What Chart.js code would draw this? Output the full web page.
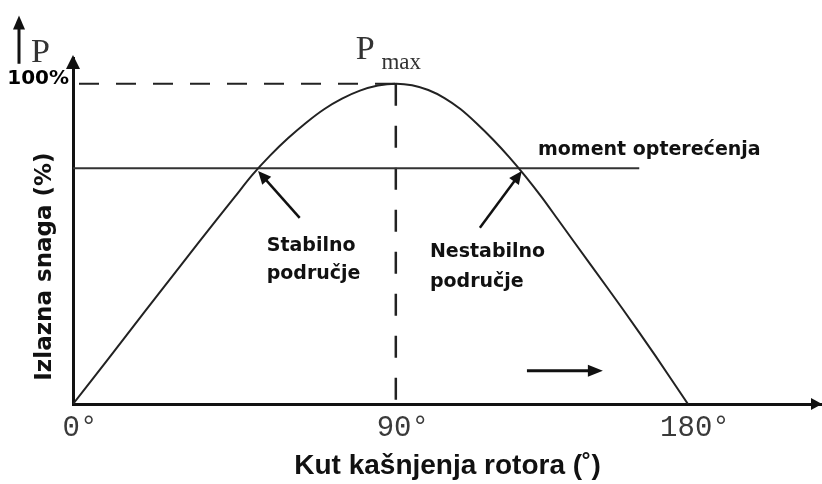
<!DOCTYPE html>
<html>
<head>
<meta charset="utf-8">
<script src="https://cdn.jsdelivr.net/npm/chart.js@4.4.1/dist/chart.umd.min.js"></script>
<style>
  html, body { margin: 0; padding: 0; background: #fff; }
  #wrap { width: 822px; height: 484px; }
</style>
</head>
<body>
<div id="wrap"><canvas id="c" width="822" height="484"></canvas></div>
<script>
// ── DATA ──────────────────────────────────────────────────────────────────────
// power-angle curve (degrees / % of Pmax)
const angles = [0, 10, 20, 30, 40, 45, 50, 55, 60, 65, 70, 75, 80, 85, 90,
                95, 100, 105, 110, 115, 120, 125, 130, 135, 140, 150, 160, 170, 180];
const power  = [0, 14.3, 28.8, 43.2, 57.5, 64.5, 71.5, 77.6, 83, 87.8, 92, 95.3, 97.8, 99.4, 100,
                99.5, 98, 95.5, 92, 87.5, 82.5, 77, 71, 64.5, 57.5, 43.5, 29.5, 15, 0];

const loadLevel = 73.6;          // moment opterećenja
const loadSpan  = [0, 165];
const pmaxAngle = 90;
const pmaxValue = 100;

const xTicks      = [0, 90, 180];
const xTickLabels = ['0°', '90°', '180°'];
const yTicks      = [100];
const yTickLabels = ['100%'];

// ── ANGLE SCALE ───────────────────────────────────────────────────────────────
// the sketch is hand drawn: 0-90 is wider than 90-180, so map piecewise
const ANGLE_STOPS = [0, 90, 180, 221];
const ANGLE_FRACS = [0, 0.431, 0.821, 1];

function lerpStops(v, from, to) {
  let i = 1;
  while (i < from.length - 1 && v > from[i]) i++;
  const t = (v - from[i - 1]) / (from[i] - from[i - 1]);
  return to[i - 1] + t * (to[i] - to[i - 1]);
}

const BaseLinear = Chart.LinearScale || Chart.registry.getScale('linear');
class AngleScale extends BaseLinear {
  getPixelForValue(v) {
    if (v === null || v === undefined) return NaN;
    return this.getPixelForDecimal(lerpStops(v, ANGLE_STOPS, ANGLE_FRACS));
  }
  getValueForPixel(p) {
    return lerpStops(this.getDecimalForPixel(p), ANGLE_FRACS, ANGLE_STOPS);
  }
}
AngleScale.id = 'angle';
AngleScale.defaults = BaseLinear.defaults;
Chart.register(AngleScale);

// ── HELPERS ───────────────────────────────────────────────────────────────────
const INK = '#111';
const BOLD = '"DejaVu Sans", Verdana, sans-serif';
const MONO = '"Liberation Mono", "Courier New", monospace';
const SERIF = '"Liberation Serif", "Times New Roman", serif';

function arrowHead(ctx, x1, y1, x2, y2, len, half) {
  const a = Math.atan2(y2 - y1, x2 - x1);
  const c = Math.cos(a), s = Math.sin(a);
  ctx.beginPath();
  ctx.moveTo(x2, y2);
  ctx.lineTo(x2 - len * c + half * s, y2 - len * s - half * c);
  ctx.lineTo(x2 - len * c - half * s, y2 - len * s + half * c);
  ctx.closePath();
  ctx.fill();
}

function arrow(ctx, x1, y1, x2, y2, w, len, half) {
  const a = Math.atan2(y2 - y1, x2 - x1);
  ctx.lineWidth = w;
  ctx.beginPath();
  ctx.moveTo(x1, y1);
  ctx.lineTo(x2 - len * 0.7 * Math.cos(a), y2 - len * 0.7 * Math.sin(a));
  ctx.stroke();
  arrowHead(ctx, x1, y1, x2, y2, len, half);
}

// ── ANNOTATIONS ───────────────────────────────────────────────────────────────
const sketchPlugin = {
  id: 'sketch',
  afterDraw(chart) {
    const { ctx, chartArea: ca } = chart;
    const X = v => chart.scales.x.getPixelForValue(v);
    const Y = v => chart.scales.y.getPixelForValue(v);
    ctx.save();
    ctx.fillStyle = INK;
    ctx.strokeStyle = INK;
    ctx.lineCap = 'butt';

    // axis arrowheads
    arrowHead(ctx, ca.left, ca.bottom, ca.left, ca.top - 3, 14, 7);
    arrowHead(ctx, ca.left, ca.bottom, ca.right, ca.bottom, 11, 6);

    // P with arrow, top left
    const px = ca.left - 54;
    arrow(ctx, px, Y(106.2), px, Y(121.3), 3, 14, 6);
    ctx.font = '34px ' + SERIF;
    ctx.fillStyle = '#333';
    ctx.textAlign = 'left';
    ctx.textBaseline = 'alphabetic';
    ctx.fillText('P', ca.left - 42, Y(106.8));

    // Pmax
    ctx.fillText('P', X(78.8), Y(107.8));
    ctx.font = '23px ' + SERIF;
    ctx.fillText('max', X(86), Y(104.6));

    // y axis title
    ctx.fillStyle = INK;
    ctx.save();
    ctx.translate(ca.left - 28, Y(42.9));
    ctx.rotate(-Math.PI / 2);
    ctx.font = 'bold 23px ' + BOLD;
    ctx.textAlign = 'center';
    ctx.textBaseline = 'middle';
    ctx.fillText('Izlazna snaga (%)', 0, 0);
    ctx.restore();

    // labels
    ctx.font = 'bold 19px ' + BOLD;
    ctx.textAlign = 'left';
    ctx.textBaseline = 'middle';
    ctx.fillText('moment opterećenja', X(133.8), Y(79.2));
    ctx.fillText('Stabilno', X(54), Y(49.4));
    ctx.fillText('područje', X(54), Y(40.7));
    ctx.fillText('Nestabilno', X(100.5), Y(47.5));
    ctx.fillText('područje', X(100.5), Y(38.2));

    // pointer arrows
    arrow(ctx, X(63.2), Y(58.1), X(51.6), Y(72.7), 2.5, 13, 6);
    arrow(ctx, X(115.9), Y(55), X(128.8), Y(72.7), 2.5, 13, 6);
    // direction arrow
    arrow(ctx, X(130.4), Y(10.4), X(153.8), Y(10.4), 3, 15, 6);

    ctx.restore();
  }
};

// ── CHART ─────────────────────────────────────────────────────────────────────
const curve = angles.map((a, i) => ({ x: a, y: power[i] }));

new Chart(document.getElementById('c'), {
  type: 'line',
  data: {
    datasets: [
      {
        data: curve,
        borderColor: '#222',
        borderWidth: 2,
        pointRadius: 0,
        tension: 0.3
      },
      {
        data: loadSpan.map(a => ({ x: a, y: loadLevel })),
        borderColor: '#333',
        borderWidth: 2,
        pointRadius: 0
      },
      {
        data: [{ x: 0, y: pmaxValue }, { x: pmaxAngle, y: pmaxValue }],
        borderColor: '#222',
        borderWidth: 2,
        borderDash: [20, 17],
        borderDashOffset: -6,
        pointRadius: 0
      },
      {
        data: [{ x: pmaxAngle, y: pmaxValue }, { x: pmaxAngle, y: 0 }],
        borderColor: '#222',
        borderWidth: 2.5,
        borderDash: [22, 20],
        pointRadius: 0
      }
    ]
  },
  options: {
    responsive: false,
    animation: false,
    devicePixelRatio: 1,
    layout: { padding: { top: 58, left: 0, right: 0, bottom: 0 } },
    plugins: {
      legend: { display: false },
      tooltip: { enabled: false }
    },
    scales: {
      x: {
        type: 'angle',
        min: 0,
        max: 221,
        afterBuildTicks: s => { s.ticks = xTicks.map(v => ({ value: v })); },
        afterFit: s => { s.height = 80; },
        grid: { display: false, drawTicks: false },
        border: { color: INK, width: 3 },
        ticks: {
          autoSkip: false,
          maxRotation: 0,
          padding: 7,
          labelOffset: 7,
          color: '#3a3a3a',
          font: { family: MONO, size: 29 },
          callback: (v, i) => xTickLabels[i]
        },
        title: {
          display: true,
          text: 'Kut kašnjenja rotora (˚)',
          color: INK,
          font: { family: '"Liberation Sans", Arial, sans-serif', size: 28, weight: 'bold' },
          padding: { top: 0, bottom: 1 }
        }
      },
      y: {
        type: 'linear',
        min: 0,
        max: 108,
        afterBuildTicks: s => { s.ticks = yTicks.map(v => ({ value: v })); },
        afterFit: s => { s.width = 73; },
        grid: { display: false, drawTicks: false },
        border: { color: INK, width: 3 },
        ticks: {
          padding: 4,
          labelOffset: -5,
          color: '#000',
          font: { family: BOLD, size: 20, weight: 'bold' },
          callback: (v, i) => yTickLabels[i]
        }
      }
    }
  },
  plugins: [sketchPlugin]
});
</script>
</body>
</html>
